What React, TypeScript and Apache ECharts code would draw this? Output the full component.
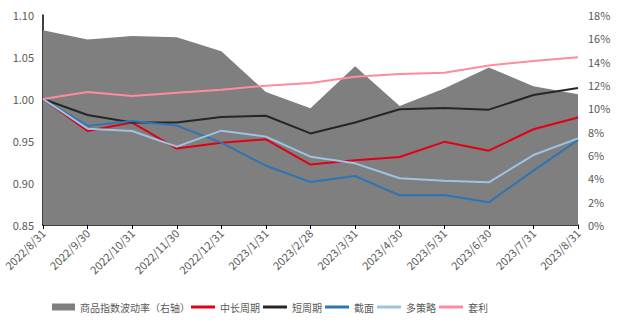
import React, { useEffect, useRef } from "react";
import * as echarts from "echarts";

const categories = [
  "2022/8/31", "2022/9/30", "2022/10/31", "2022/11/30", "2022/12/31", "2023/1/31",
  "2023/2/28", "2023/3/31", "2023/4/30", "2023/5/31", "2023/6/30", "2023/7/31", "2023/8/31",
];
const volatility = [16.7, 15.9, 16.2, 16.1, 14.9, 11.4, 10.0, 13.6, 10.2, 11.7, 13.5, 11.9, 11.2];
const midLong = [1.0, 0.962, 0.972, 0.941, 0.948, 0.952, 0.922, 0.927, 0.931, 0.949, 0.9385, 0.964, 0.978];
const shortCycle = [1.0, 0.981, 0.972, 0.972, 0.9786, 0.98, 0.959, 0.972, 0.9877, 0.9893, 0.9873, 1.0048, 1.0131];
const crossSection = [1.0, 0.968, 0.9738, 0.9683, 0.948, 0.9206, 0.9012, 0.9083, 0.8853, 0.8857, 0.877, 0.9147, 0.9512];
const multiStrategy = [1.0, 0.9647, 0.9619, 0.9433, 0.9623, 0.9552, 0.9313, 0.9234, 0.9056, 0.9028, 0.9008, 0.9333, 0.9532];
const arbitrage = [1.0, 1.0083, 1.0036, 1.0075, 1.0111, 1.0159, 1.019, 1.0266, 1.0298, 1.0313, 1.04, 1.0452, 1.0496];

const names = ["商品指数波动率（右轴）", "中长周期", "短周期", "截面", "多策略", "套利"];
const colors = ["#7f7f7f", "#e10014", "#262626", "#2e75b6", "#9dc3e6", "#ff8b9d"];

export default function App() {
  const ref = useRef<HTMLDivElement>(null);
  useEffect(() => {
    if (!ref.current) return;
    const chart = echarts.init(ref.current, null, { renderer: "svg" });
    const font = "'Noto Sans CJK SC', 'Noto Sans', sans-serif";
    const legendText = { fontSize: 10, color: "#595959", fontFamily: font };
    const lineSeries = (i: number, data: number[]) => ({
      name: names[i],
      type: "line",
      data,
      yAxisIndex: 0,
      symbol: "none",
      showSymbol: false,
      z: 3 + i,
      lineStyle: { color: colors[i], width: 2 },
      itemStyle: { color: colors[i] },
    });
    chart.setOption({
      animation: false,
      textStyle: { fontFamily: font },
      grid: { left: 43, right: 44, top: 15, bottom: 103, containLabel: false },
      legend: [
        {
          left: 47,
          top: 297,
          itemWidth: 23,
          itemHeight: 7,
          icon: "rect",
          textStyle: legendText,
          data: [names[0]],
        },
        {
          left: 186,
          top: 297,
          itemWidth: 24,
          itemHeight: 3,
          itemGap: 3,
          icon: "rect",
          textStyle: legendText,
          data: names.slice(1),
        },
      ],
      xAxis: {
        type: "category",
        boundaryGap: false,
        data: categories,
        axisLine: { lineStyle: { color: "#000", width: 1.5 } },
        axisTick: { alignWithLabel: true, length: 4, lineStyle: { color: "#000" } },
        axisLabel: { rotate: 45, fontSize: 11, color: "#595959", margin: 6, interval: 0 },
      },
      yAxis: [
        {
          type: "value",
          min: 0.85,
          max: 1.1,
          interval: 0.05,
          axisLine: { show: true, lineStyle: { color: "#000", width: 1.5 } },
          axisTick: { show: false },
          splitLine: { show: false },
          axisLabel: { fontSize: 11, color: "#595959", margin: 9, formatter: (v: number) => v.toFixed(2) },
        },
        {
          type: "value",
          min: 0,
          max: 18,
          interval: 2,
          position: "right",
          axisLine: { show: false },
          axisTick: { show: false },
          splitLine: { show: false },
          axisLabel: { fontSize: 11, color: "#595959", margin: 10, formatter: (v: number) => v + "%" },
        },
      ],
      series: [
        {
          name: names[0],
          type: "line",
          yAxisIndex: 1,
          data: volatility,
          symbol: "none",
          showSymbol: false,
          z: 1,
          lineStyle: { width: 0, color: colors[0] },
          itemStyle: { color: colors[0] },
          areaStyle: { color: colors[0], opacity: 1 },
        },
        lineSeries(1, midLong),
        lineSeries(2, shortCycle),
        lineSeries(3, crossSection),
        lineSeries(4, multiStrategy),
        lineSeries(5, arbitrage),
      ],
    });
    return () => chart.dispose();
  }, []);
  return (
    <div
      ref={ref}
      style={{ position: "absolute", left: 0, top: 0, width: 622, height: 328 }}
    />
  );
}
